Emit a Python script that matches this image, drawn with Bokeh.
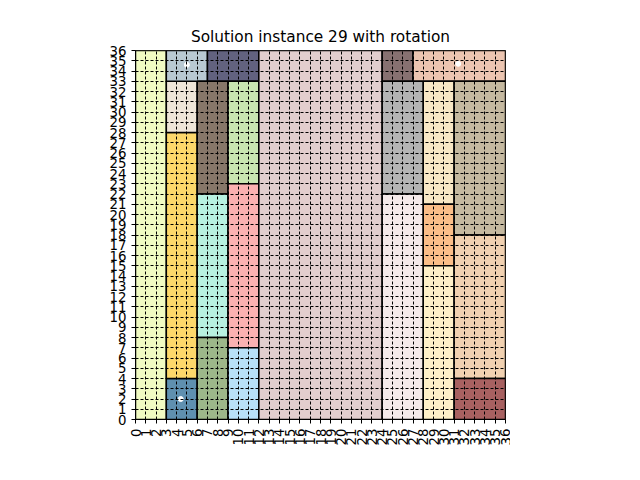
from bokeh.plotting import figure
from bokeh.models import ColumnDataSource, FixedTicker
from bokeh.embed import file_html
from bokeh.resources import INLINE

# rectangles: left, bottom, width, height, colour
lefts = [0, 3, 3, 3, 3, 7, 6, 6, 6, 9, 9, 9, 12, 24, 27, 24, 24, 28, 28, 28, 31, 31, 31]
bottoms = [0, 0, 4, 28, 33, 33, 22, 8, 0, 23, 7, 0, 0, 33, 33, 22, 0, 21, 15, 0, 18, 4, 0]
widths = [3, 3, 3, 3, 4, 5, 3, 3, 3, 3, 3, 3, 12, 3, 9, 4, 4, 3, 3, 3, 5, 5, 5]
heights = [36, 4, 24, 5, 3, 3, 11, 14, 8, 10, 16, 7, 36, 3, 3, 11, 22, 12, 6, 15, 15, 14, 4]
colors = ["#f1fbc3", "#5f90b0", "#fdd86b", "#efe6d9", "#b9c9d2", "#62627f",
          "#877769", "#b8f1e1", "#9db78a", "#c9e6b1", "#fbb1b1", "#b9e1f8",
          "#e2cece", "#877171", "#ecc5b1", "#b4b4b4", "#f5eaea", "#f8e7c5",
          "#fbbe89", "#fff0c9", "#c5b9a0", "#f1d1b1", "#a86161"]
dot_x = [4.4, 5.0, 31.4]
dot_y = [2.0, 34.6, 34.7]

src = ColumnDataSource(dict(
    l=lefts, b=bottoms,
    r=[a + w for a, w in zip(lefts, widths)],
    t=[a + h for a, h in zip(bottoms, heights)],
    c=colors))

p = figure(width=624, height=464, frame_width=370, frame_height=369,
           x_range=(0, 36), y_range=(0, 36), output_backend="svg",
           toolbar_location=None, title="Solution instance 29 with rotation",
           min_border_left=135, min_border_top=50)
p.title.align = "center"
p.title.text_font = "DejaVu Sans"
p.title.text_font_size = "11.5pt"
p.title.text_font_style = "normal"
p.title.text_color = "black"
p.quad(left="l", right="r", bottom="b", top="t", fill_color="c",
       line_color="black", line_width=1.5, source=src)
p.scatter(dot_x, dot_y, size=5, color="white")

ticks = list(range(37))
for ax in (p.xaxis, p.yaxis):
    ax.ticker = FixedTicker(ticks=ticks)
    ax.major_label_text_font = "DejaVu Sans"
    ax.major_label_text_font_size = "10pt"
    ax.major_label_text_color = "black"
    ax.minor_tick_line_color = None
    ax.major_tick_in = 0
    ax.major_tick_out = 4
    ax.axis_line_color = "black"
p.xaxis.major_label_orientation = 1.5708
p.grid.ticker = FixedTicker(ticks=ticks)
p.grid.grid_line_color = "black"
p.grid.grid_line_dash = "3 2"
p.grid.grid_line_alpha = 1
p.grid.level = "overlay"
p.outline_line_color = "black"

open("out.html", "w").write(file_html(p, INLINE))
